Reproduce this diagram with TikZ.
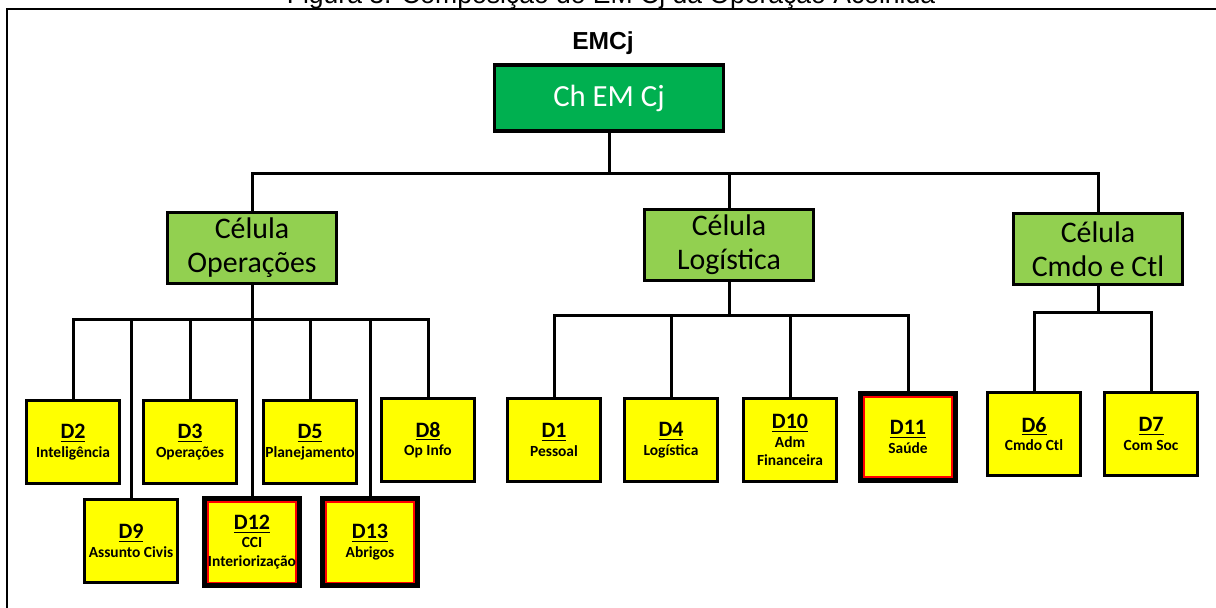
\documentclass[tikz,border=0pt]{standalone}
\usepackage{fontspec}
\setmainfont{Carlito}
\newfontfamily\arialfont{Liberation Sans}
\usetikzlibrary{positioning}

\definecolor{chgreen}{HTML}{00B050}
\definecolor{cellgreen}{HTML}{92D050}
\definecolor{dyellow}{HTML}{FFFF00}

\newcommand{\dhead}[1]{{\fontsize{12.5}{10.5}\selectfont\underline{#1}}}

\tikzset{
  chbox/.style={draw, line width=0.07cm, fill=chgreen, text=white, minimum width=4.58cm, minimum height=1.32cm, font=\fontsize{17.5}{21}\selectfont},
  cellbox/.style={draw, line width=0.06cm, fill=cellgreen, align=center, minimum width=3.38cm, minimum height=1.42cm, inner sep=0pt, font=\fontsize{17}{19.5}\selectfont},
  dbox/.style={draw, line width=0.06cm, fill=dyellow, align=center, minimum width=1.86cm, minimum height=1.68cm, inner sep=0pt, font=\bfseries\fontsize{8.8}{10.5}\selectfont},
  hotbox/.style={dbox, draw=red, line width=0.04cm, preaction={draw=black, line width=0.24cm}, minimum width=1.76cm, minimum height=1.62cm},
  link/.style={line width=0.06cm},
}

\begin{document}
\begin{tikzpicture}[x=0.02cm, y=-0.02cm]
\useasboundingbox (0,0) rectangle (1216,608);
\draw[line width=0.04cm] (7,630) -- (7,9) -- (1240,9);
\node (title) [anchor=base, font=\arialfont\fontsize{15.1}{18}\selectfont] at (611,4) {Figura 3. Composição do EM Cj da Operação Acolhida};

\node (emcj) [anchor=base, font=\arialfont\bfseries\fontsize{14}{17}\selectfont] at (603,50) {EMCj};
\node (chem) [chbox] at (609,98) {Ch EM Cj};

\node (ops) [cellbox] at (252,248) {Célula\\Operações};
\node (log) [cellbox] at (729,245) {Célula\\Logística};
\node (cmd) [cellbox] at (1098,249) {Célula\\Cmdo e Ctl};

% Celula Operacoes
\node (d2) [dbox] at (73,442) {\dhead{D2}\\Inteligência};
\node (d3) [dbox] at (190,442) {\dhead{D3}\\Operações};
\node (d5) [dbox] at (310,442) {\dhead{D5}\\Planejamento};
\node (d8) [dbox] at (428,440) {\dhead{D8}\\Op Info};
\node (d9) [dbox] at (131,541) {\dhead{D9}\\Assunto Civis};
\node (d12) [hotbox] at (252,542) {\dhead{D12}\\CCI\\Interiorização};
\node (d13) [hotbox] at (370,542) {\dhead{D13}\\Abrigos};

% Celula Logistica
\node (d1) [dbox] at (554,440) {\dhead{D1}\\Pessoal};
\node (d4) [dbox] at (671,440) {\dhead{D4}\\Logística};
\node (d10) [dbox] at (790,440) {\dhead{D10}\\Adm\\Financeira};
\node (d11) [hotbox] at (908,437) {\dhead{D11}\\Saúde};

% Celula Cmdo e Ctl
\node (d6) [dbox] at (1034,434) {\dhead{D6}\\Cmdo Ctl};
\node (d7) [dbox] at (1151,434) {\dhead{D7}\\Com Soc};

\coordinate (top) at (609,173);
\coordinate (opsbus) at (252,319);
\coordinate (logbus) at (729,315);
\coordinate (cmdbus) at (1098,312);

\draw[link] (chem) -- (top) (top) -| (ops) (top) -| (log) (top) -| (cmd);
\draw[link] (ops) -- (opsbus) (opsbus) -| (d2) (opsbus) -| (d9) (opsbus) -| (d3) (opsbus) -- (d12)
  (opsbus) -| (d5) (opsbus) -| (d13) (opsbus) -| (d8);
\draw[link] (log) -- (logbus) (logbus) -| (d1) (logbus) -| (d4) (logbus) -| (d10) (logbus) -| (d11);
\draw[link] (cmd) -- (cmdbus) (cmdbus) -| (d6) (cmdbus) -| (d7);
\end{tikzpicture}
\end{document}
